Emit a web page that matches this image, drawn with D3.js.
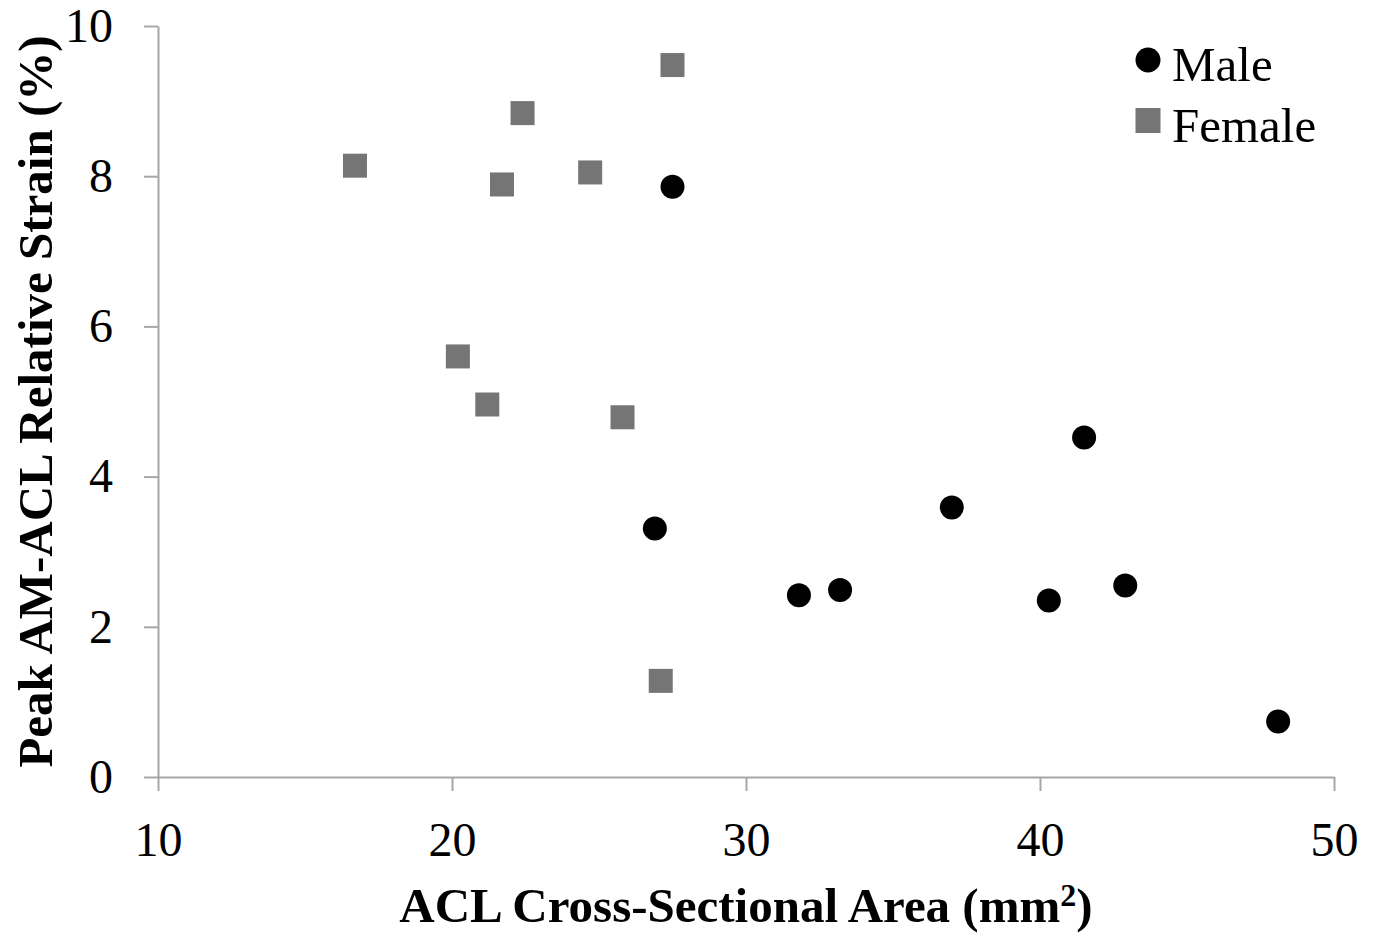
<!DOCTYPE html>
<html>
<head>
<meta charset="utf-8">
<script src="https://cdn.jsdelivr.net/npm/d3@7"></script>
<style>
  body { margin: 0; background: #fff; }
  text { font-family: "Liberation Serif", "Times New Roman", serif; }
</style>
</head>
<body>
<div id="chart"></div>
<script>
// Scatter: ACL cross-sectional area vs peak strain, by sex.

var xTicks = [10, 20, 30, 40, 50];
var yTicks = [0, 2, 4, 6, 8, 10];

var maleArea   = [27.5, 26.9, 31.8, 33.2, 37.0, 41.5, 40.3, 42.9, 48.1];
var maleStrain = [7.86, 3.31, 2.42, 2.49, 3.59, 4.52, 2.35, 2.55, 0.74];

var femaleArea   = [16.7, 22.4, 27.5, 21.7, 24.7, 20.2, 21.2, 25.8, 27.1];
var femaleStrain = [8.14, 8.84, 9.48, 7.89, 8.05, 5.60, 4.96, 4.79, 1.28];

var legendLabels = ["Male", "Female"];

var W = 1376, H = 935;
var margin = {left: 158, right: 42, top: 26, bottom: 158};

var svg = d3.select("#chart").append("svg")
    .attr("width", W)
    .attr("height", H);

var x = d3.scaleLinear().domain([10, 50]).range([margin.left, W - margin.right]);
var y = d3.scaleLinear().domain([0, 10]).range([H - margin.bottom, margin.top]);

var axisColor = "#a6a6a6";
var fontSize = 48;

// x axis
var gx = svg.append("g")
    .attr("transform", "translate(0," + y(0) + ")")
    .call(d3.axisBottom(x).tickValues(xTicks).tickSize(14).tickPadding(31).tickSizeOuter(0));
gx.select(".domain").attr("stroke", axisColor).attr("stroke-width", 2);
gx.selectAll(".tick line").attr("stroke", axisColor).attr("stroke-width", 2);
gx.selectAll(".tick text").attr("font-size", fontSize).attr("fill", "#000")
    .attr("font-family", "Liberation Serif");

// y axis
var gy = svg.append("g")
    .attr("transform", "translate(" + x(10) + ",0)")
    .call(d3.axisLeft(y).tickValues(yTicks).tickSize(14).tickPadding(31).tickSizeOuter(0));
gy.select(".domain").attr("stroke", axisColor).attr("stroke-width", 2);
gy.selectAll(".tick line").attr("stroke", axisColor).attr("stroke-width", 2);
gy.selectAll(".tick text").attr("font-size", fontSize).attr("fill", "#000")
    .attr("font-family", "Liberation Serif");

// axis titles
svg.append("text")
    .attr("x", x(30))
    .attr("y", 922)
    .attr("text-anchor", "middle")
    .attr("font-size", 49)
    .attr("font-weight", "bold")
    .html("ACL Cross-Sectional Area (mm<tspan dy='-16' font-size='32'>2</tspan><tspan dy='16'>)</tspan>");

svg.append("text")
    .attr("transform", "translate(52," + y(5) + ") rotate(-90)")
    .attr("text-anchor", "middle")
    .attr("font-size", 49)
    .attr("font-weight", "bold")
    .text("Peak AM-ACL Relative Strain (%)");

// points
var female = femaleArea.map(function (d, i) { return [d, femaleStrain[i]]; });
var male = maleArea.map(function (d, i) { return [d, maleStrain[i]]; });

var sq = 24;
svg.selectAll("rect.female").data(female).enter()
    .append("rect")
    .attr("class", "female")
    .attr("x", function (d) { return x(d[0]) - sq / 2; })
    .attr("y", function (d) { return y(d[1]) - sq / 2; })
    .attr("width", sq)
    .attr("height", sq)
    .attr("fill", "#757575");

svg.selectAll("circle.male").data(male).enter()
    .append("circle")
    .attr("class", "male")
    .attr("cx", function (d) { return x(d[0]); })
    .attr("cy", function (d) { return y(d[1]); })
    .attr("r", 12)
    .attr("fill", "#000");

// legend
var lg = svg.append("g").attr("transform", "translate(1148,0)");
lg.append("circle").attr("cx", 0).attr("cy", 60).attr("r", 12.5).attr("fill", "#000");
lg.append("rect").attr("x", -12.5).attr("y", 108).attr("width", 25).attr("height", 25).attr("fill", "#757575");
lg.selectAll("text.leg").data(legendLabels).enter()
    .append("text")
    .attr("class", "leg")
    .attr("x", 24)
    .attr("y", function (d, i) { return 81 + i * 61; })
    .attr("font-size", 49)
    .text(function (d) { return d; });
</script>
</body>
</html>
